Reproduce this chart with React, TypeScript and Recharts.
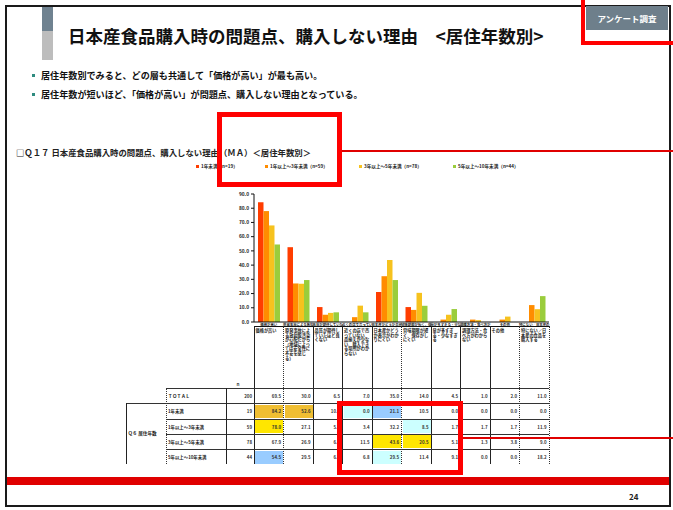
import React from 'react';
import { BarChart, Bar, XAxis, YAxis, Legend } from 'recharts';

const categories = [
  '価格が高い',
  '原発事故による放射能汚染が心配だから（地域によっては安全性に不安を感じる）',
  '品質が期待していたほど良くない',
  '近くの店で売っていない、品揃えが少ない、購入できる場所がわからない',
  '日本産かどうか表示がわかりにくい',
  '賞味期限が短く、保存がしにくい',
  '量が多すぎる・少なすぎる',
  '調理方法・食べ方がわからない',
  'その他',
  '特にない／日本産の食品を購入する',
];

const seriesNames = [
  '1年未満（n=19）',
  '1年以上～3年未満（n=59）',
  '3年以上～5年未満（n=78）',
  '5年以上～10年未満（n=44）',
];

const lessThan1Year = [84.2, 52.6, 10.5, 0.0, 21.1, 10.5, 0.0, 0.0, 0.0, 0.0];
const from1To3Years = [78.0, 27.1, 5.1, 3.4, 32.2, 8.5, 1.7, 1.7, 1.7, 11.9];
const from3To5Years = [67.9, 26.9, 6.4, 11.5, 43.6, 20.5, 5.1, 1.3, 3.8, 9.0];
const from5To10Years = [54.5, 29.5, 6.8, 6.8, 29.5, 11.4, 9.1, 0.0, 0.0, 18.2];
const totalValues = [69.5, 30.0, 6.5, 7.0, 35.0, 14.0, 4.5, 1.0, 2.0, 11.0];

const rowLabels = ['ＴＯＴＡＬ', '1年未満', '1年以上～3年未満', '3年以上～5年未満', '5年以上～10年未満'];
const nValues = [200, 19, 59, 78, 44];
const yTicks = [0, 10, 20, 30, 40, 50, 60, 70, 80, 90];

const bulletLines = [
  '居住年数別でみると、どの層も共通して「価格が高い」が最も高い。',
  '居住年数が短いほど、「価格が高い」が問題点、購入しない理由となっている。',
];

const COLORS = ['#FF3D00', '#FF8C00', '#F6C21E', '#9ACD3C'];
const FONT = '"Noto Sans CJK JP", "Noto Sans", sans-serif';

const data = categories.map((c, i) => ({
  name: c,
  s0: lessThan1Year[i],
  s1: from1To3Years[i],
  s2: from3To5Years[i],
  s3: from5To10Years[i],
}));

const tableRows = [totalValues, lessThan1Year, from1To3Years, from3To5Years, from5To10Years];

// cell highlight styles: [row, col] -> colour
const highlights: Record<string, string> = {
  '1-0': '#F0BE32',
  '1-1': '#F0BE32',
  '1-3': '#CCFFFF',
  '1-4': '#99CCFF',
  '2-0': '#FFE600',
  '2-5': '#CCFFFF',
  '3-4': '#FFE600',
  '3-5': '#FFE600',
  '4-0': '#99CCFF',
  '4-4': '#CCFFFF',
};

const CHART_LEFT = 180;
const CHART_TOP = 155;
const COL_X0 = 254;
const COL_W = 29.5;
const ROW_TOPS = [388, 403.3, 418.5, 433.8, 449.1];
const ROW_H = 15.2;
const TABLE_BOTTOM = 464.3;
const LEGEND_X = [196, 265, 359, 453];

const XTick = (props: any) => {
  const { x, y, payload } = props;
  return (
    <text x={x} y={y} dy={2.6} fontSize={3.4} fontWeight={700} textAnchor="middle" fill="#222" fontFamily={FONT}>
      {String(payload.value).slice(0, 9)}
    </text>
  );
};

const LegendContent = (props: any) => {
  const payload = props.payload || [];
  return (
    <div style={{ position: 'relative', height: 0, width: 380 }}>
      {payload.map((p: any) => {
        const i = seriesNames.indexOf(p.value);
        return (
          <div
            key={p.value}
            style={{
              position: 'absolute',
              left: LEGEND_X[i] - CHART_LEFT,
              top: 8,
              display: 'flex',
              alignItems: 'center',
              whiteSpace: 'nowrap',
              fontSize: 4.6,
              fontWeight: 700,
              color: '#222',
              fontFamily: FONT,
            }}
          >
            <span style={{ width: 3, height: 3, background: p.color, marginRight: 2, display: 'inline-block' }} />
            {p.value}
          </div>
        );
      })}
    </div>
  );
};

const abs = (s: React.CSSProperties): React.CSSProperties => ({ position: 'absolute', ...s });

export default function App() {
  const vLines: React.ReactNode[] = [];
  for (let k = 0; k <= 10; k++) {
    const x = COL_X0 + COL_W * k;
    const dotted = k === 1 || k === 5 || k === 9 || k === 10;
    vLines.push(
      <div
        key={'v' + k}
        style={abs({
          left: x - 0.5,
          top: 326,
          width: 0,
          height: TABLE_BOTTOM - 326,
          borderLeft: dotted ? '1px dotted #333' : '1px solid #222',
        })}
      />
    );
  }

  return (
    <div style={abs({ left: 0, top: 0, width: 673, height: 510, background: '#fff', overflow: 'hidden', fontFamily: FONT })}>
      {/* slide frame */}
      <div style={abs({ left: 5, top: 5, width: 666, height: 502, border: '2px solid #1a1a1a', boxSizing: 'border-box' })} />
      {/* title bar */}
      <div style={abs({ left: 42, top: 7, width: 11, height: 24, background: '#6F8290' })} />
      <div style={abs({ left: 42, top: 31, width: 11, height: 29, background: '#BDBDBD' })} />
      <div style={abs({ left: 68, top: 24, fontSize: 17.5, fontWeight: 700, color: '#111', whiteSpace: 'nowrap', lineHeight: '24px' })}>
        日本産食品購入時の問題点、購入しない理由　&lt;居住年数別&gt;
      </div>
      {/* badge */}
      <div style={abs({ left: 586, top: 6, width: 82, height: 24, background: '#6E7F8B', color: '#fff', fontSize: 8.5, fontWeight: 700, display: 'flex', alignItems: 'center', justifyContent: 'center' })}>
        アンケート調査
      </div>
      <div style={abs({ left: 581, top: -6, width: 100, height: 51, border: '4px solid #FF0000', boxSizing: 'border-box' })} />

      {/* bullets */}
      {bulletLines.map((t, i) => (
        <React.Fragment key={i}>
          <div style={abs({ left: 32, top: 74 + i * 19, width: 3, height: 3, background: '#2E8B7F' })} />
          <div style={abs({ left: 41, top: 69 + i * 19, fontSize: 9.1, fontWeight: 700, color: '#111', whiteSpace: 'nowrap', lineHeight: '13px' })}>{t}</div>
        </React.Fragment>
      ))}

      {/* chart title */}
      <div style={abs({ left: 16, top: 146, fontSize: 8.4, fontWeight: 700, color: '#222', whiteSpace: 'nowrap', lineHeight: '12px' })}>
        □Ｑ１７ 日本産食品購入時の問題点、購入しない理由（ＭＡ）＜居住年数別＞
      </div>
      <div style={abs({ left: 340, top: 150, width: 340, height: 1.5, background: '#E00000' })} />

      {/* chart */}
      <div style={abs({ left: CHART_LEFT, top: CHART_TOP })}>
        <BarChart
          width={380}
          height={180}
          data={data}
          margin={{ top: 39, right: 11, left: 20, bottom: 0 }}
          barSize={5.5}
          barGap={0}
        >
          <Legend
            verticalAlign="middle"
            align="center"
            content={<LegendContent />}
            wrapperStyle={{ top: 0, left: 0, height: 0 }}
          />
          <XAxis
            dataKey="name"
            height={13}
            axisLine={{ stroke: '#111', strokeWidth: 1 }}
            tickLine={false}
            tickSize={1}
            tickMargin={0}
            interval={0}
            tick={<XTick />}
          />
          <YAxis
            width={54}
            domain={[0, 90]}
            ticks={yTicks}
            interval={0}
            tickFormatter={(v: number) => v.toFixed(1)}
            axisLine={{ stroke: '#111', strokeWidth: 1 }}
            tickLine={{ stroke: '#111' }}
            tickSize={3}
            tickMargin={2}
            tick={{ fontSize: 4.8, fontWeight: 700, fill: '#222', fontFamily: FONT }}
          />
          {['s0', 's1', 's2', 's3'].map((k, i) => (
            <Bar key={k} dataKey={k} name={seriesNames[i]} fill={COLORS[i]} isAnimationActive={false} />
          ))}
        </BarChart>
      </div>

      {/* table */}
      <div style={abs({ left: COL_X0, top: 326, width: COL_W * 10, height: 1, background: '#111' })} />
      {vLines}
      {categories.map((c, k) => (
        <div
          key={'h' + k}
          style={abs({
            left: COL_X0 + COL_W * k + 1.5,
            top: 328,
            width: COL_W - 3,
            fontSize: 4.2,
            lineHeight: '4.6px',
            fontWeight: 700,
            color: '#222',
            wordBreak: 'break-all',
          })}
        >
          {c}
        </div>
      ))}
      <div style={abs({ left: 236, top: 381, fontSize: 4, fontWeight: 700, color: '#222' })}>ｎ</div>

      {/* horizontal lines */}
      <div style={abs({ left: 166, top: ROW_TOPS[0], width: COL_X0 + COL_W * 10 - 166, height: 1, background: '#333' })} />
      <div style={abs({ left: 126, top: ROW_TOPS[1], width: COL_X0 + COL_W * 10 - 126, height: 1, background: '#333' })} />
      {[2, 3, 4].map((r) => (
        <div key={'hl' + r} style={abs({ left: 166, top: ROW_TOPS[r], width: COL_X0 + COL_W * 10 - 166, height: 1, background: '#333' })} />
      ))}
      {/* left verticals */}
      <div style={abs({ left: 126, top: ROW_TOPS[1], width: 0, height: TABLE_BOTTOM - ROW_TOPS[1], borderLeft: '1px solid #222' })} />
      <div style={abs({ left: 166, top: ROW_TOPS[0], width: 0, height: TABLE_BOTTOM - ROW_TOPS[0], borderLeft: '1px dotted #333' })} />
      <div style={abs({ left: 226, top: ROW_TOPS[0], width: 0, height: TABLE_BOTTOM - ROW_TOPS[0], borderLeft: '1px solid #222' })} />
      <div style={abs({ left: 128, top: 430, fontSize: 4.6, fontWeight: 700, color: '#222', whiteSpace: 'nowrap' })}>Ｑ６ 居住年数</div>

      {tableRows.map((row, r) => (
        <React.Fragment key={'r' + r}>
          <div style={abs({ left: 168, top: ROW_TOPS[r] + 5, fontSize: 4.4, fontWeight: 700, color: '#222', whiteSpace: 'nowrap' })}>
            {rowLabels[r]}
          </div>
          <div style={abs({ left: 226, top: ROW_TOPS[r] + 5, width: 26, textAlign: 'right', fontSize: 4.4, fontWeight: 700, color: '#333' })}>
            {nValues[r]}
          </div>
          {row.map((v, c) => {
            const bg = highlights[r + '-' + c];
            return (
              <React.Fragment key={'c' + c}>
                {bg && (
                  <div style={abs({ left: COL_X0 + COL_W * c + 1, top: ROW_TOPS[r] + 1.5, width: COL_W - 1.5, height: ROW_H - 2, background: bg })} />
                )}
                <div
                  style={abs({
                    left: COL_X0 + COL_W * c,
                    top: ROW_TOPS[r] + 5,
                    width: COL_W - 2.5,
                    textAlign: 'right',
                    fontSize: 4.4,
                    fontWeight: 700,
                    color: '#333',
                  })}
                >
                  {v.toFixed(1)}
                </div>
              </React.Fragment>
            );
          })}
        </React.Fragment>
      ))}

      {/* red highlight boxes */}
      <div style={abs({ left: 217, top: 112, width: 125, height: 75, border: '5px solid #FF0000', boxSizing: 'border-box' })} />
      <div style={abs({ left: 337, top: 401, width: 126, height: 74, border: '5px solid #FF0000', boxSizing: 'border-box' })} />
      <div style={abs({ left: 463, top: 437, width: 220, height: 1.5, background: '#E00000' })} />

      {/* footer */}
      <div style={abs({ left: 7, top: 477, width: 662, height: 8, background: '#E00000' })} />
      <div style={abs({ left: 629, top: 491, fontSize: 8, fontWeight: 700, color: '#222' })}>24</div>
    </div>
  );
}
